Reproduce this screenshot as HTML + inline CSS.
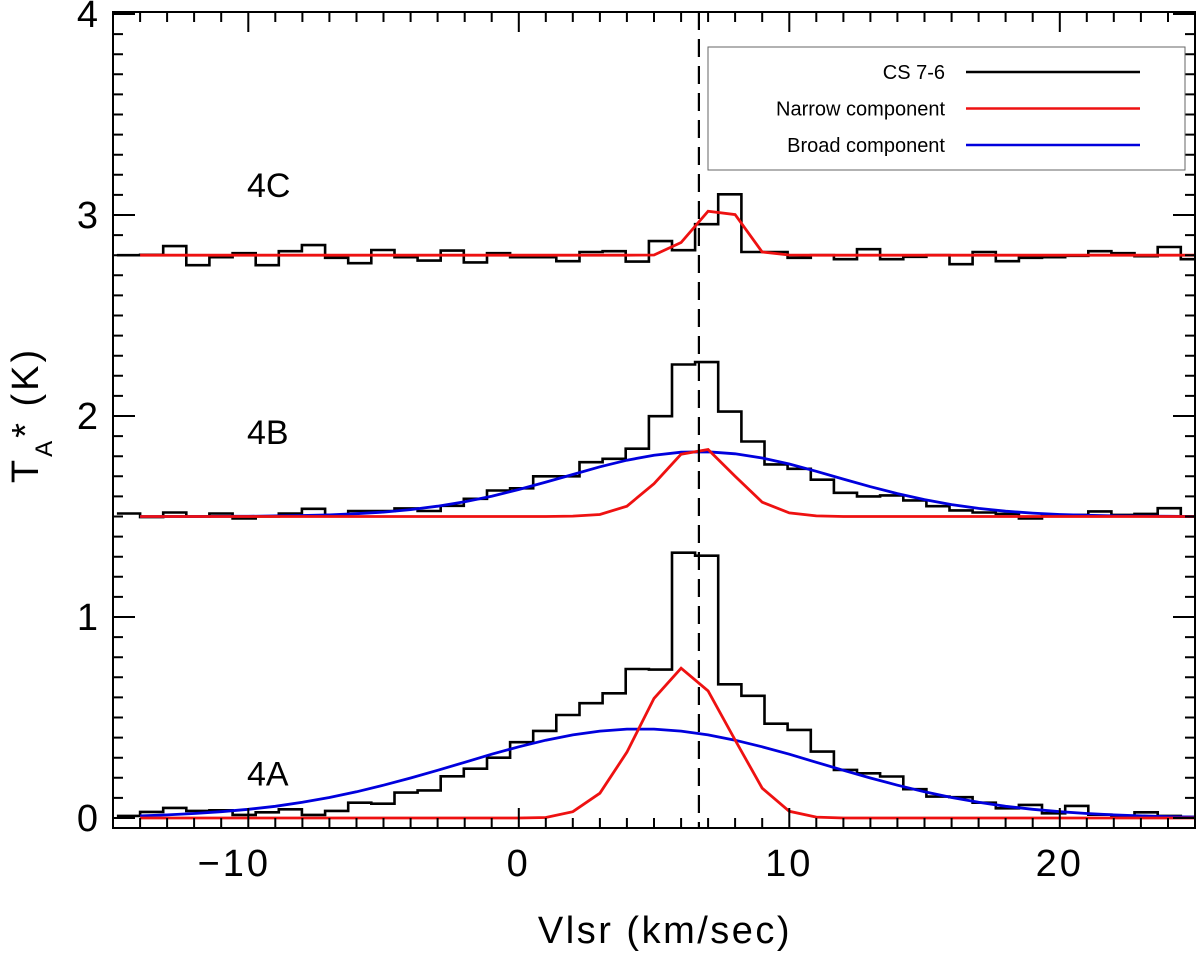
<!DOCTYPE html>
<html><head><meta charset="utf-8"><style>
html,body{margin:0;padding:0;background:#fff;}
svg{display:block;font-family:"Liberation Sans",Arial,sans-serif;}
</style></head><body>
<svg id="chart" width="1200" height="954" viewBox="0 0 1200 954" xmlns="http://www.w3.org/2000/svg">
<g id="plot"></g>
</svg>
<script>
// ---- data ----
const chanStart = -14.0;
const chanWidth = 0.855;
const chanFirstIndex = -1;
const cs4A = [0.01,0.03,0.05,0.035,0.038,0.015,0.028,0.043,0.015,0.035,0.076,0.071,0.126,0.137,0.207,0.245,0.3,0.377,0.433,0.512,0.571,0.62,0.741,0.738,1.32,1.305,0.665,0.608,0.469,0.438,0.33,0.239,0.222,0.206,0.143,0.106,0.103,0.076,0.048,0.065,0.023,0.06,0.016,0.01,0.028,0.01,0.005];
const cs4B = [1.515,1.497,1.52,1.50,1.515,1.49,1.50,1.515,1.538,1.508,1.527,1.527,1.54,1.527,1.553,1.588,1.629,1.64,1.70,1.70,1.77,1.787,1.837,1.999,2.256,2.268,2.022,1.873,1.759,1.737,1.683,1.618,1.60,1.605,1.58,1.551,1.53,1.52,1.513,1.49,1.508,1.508,1.525,1.508,1.513,1.541,1.50];
const cs4C = [2.80,2.802,2.845,2.75,2.79,2.81,2.75,2.82,2.85,2.787,2.76,2.826,2.79,2.773,2.823,2.764,2.81,2.79,2.79,2.77,2.816,2.82,2.768,2.87,2.825,2.954,3.103,2.816,2.816,2.787,2.8,2.78,2.83,2.78,2.792,2.8,2.755,2.816,2.77,2.787,2.79,2.797,2.82,2.81,2.795,2.841,2.78];
const fitVel = [-14,-13,-12,-11,-10,-9,-8,-7,-6,-5,-4,-3,-2,-1,0,1,2,3,4,5,6,7,8,9,10,11,12,13,14,15,16,17,18,19,20,21,22,23,24,25];
const narrow4A = [0,0,0,0,0,0,0,0,0,0,0,0,0,0,0,0.002,0.031,0.123,0.327,0.595,0.745,0.632,0.388,0.148,0.033,0.004,0,0,0,0,0,0,0,0,0,0,0,0,0,0];
const narrow4B = [1.5,1.5,1.5,1.5,1.5,1.5,1.5,1.5,1.5,1.5,1.5,1.5,1.5,1.5,1.5,1.5,1.502,1.51,1.551,1.663,1.81,1.833,1.70,1.571,1.518,1.503,1.5,1.5,1.5,1.5,1.5,1.5,1.5,1.5,1.5,1.5,1.5,1.5,1.5,1.5];
const narrow4C = [2.8,2.8,2.8,2.8,2.8,2.8,2.8,2.8,2.8,2.8,2.8,2.8,2.8,2.8,2.8,2.8,2.8,2.8,2.8,2.801,2.863,3.019,3.002,2.816,2.801,2.8,2.8,2.8,2.8,2.8,2.8,2.8,2.8,2.8,2.8,2.8,2.8,2.8,2.8,2.8];
const broad4A = [0.010,0.015,0.022,0.031,0.043,0.058,0.078,0.102,0.130,0.163,0.199,0.237,0.277,0.317,0.354,0.387,0.413,0.432,0.442,0.442,0.432,0.413,0.387,0.354,0.317,0.277,0.237,0.199,0.163,0.130,0.102,0.078,0.058,0.043,0.031,0.022,0.015,0.010,0.0065,0.004];
const broad4B = [1.5,1.5,1.5,1.501,1.501,1.503,1.505,1.508,1.514,1.522,1.534,1.551,1.573,1.601,1.634,1.671,1.709,1.747,1.780,1.805,1.820,1.822,1.812,1.791,1.761,1.725,1.686,1.648,1.614,1.584,1.559,1.540,1.526,1.517,1.510,1.506,1.503,1.502,1.501,1.5];
const refVel = 6.66;
const xTickVals = [-10,0,10,20];
const xTickLabels = ["\u221210","0","10","20"];
const yTickVals = [0,1,2,3,4];
const yTickLabels = ["0","1","2","3","4"];
const panelLabels = ["4A","4B","4C"];
const panelLabelT = [0.22,1.92,3.15];
const legendLabels = ["CS 7-6","Narrow component","Broad component"];

// ---- axes ----
const L=113,R=1195,T=12,B=828;
const xMin=-15,xMax=25,yMin=-0.05,yMax=4.01;
const X=v=>L+(v-xMin)/(xMax-xMin)*(R-L);
const Y=t=>B-(t-yMin)/(yMax-yMin)*(B-T);
const NS="http://www.w3.org/2000/svg";
const g=document.getElementById('plot');
function mk(tag,attrs,parent){const e=document.createElementNS(NS,tag);for(const k in attrs)e.setAttribute(k,attrs[k]);(parent||g).appendChild(e);return e;}

const defs=mk('defs',{});
const cp=mk('clipPath',{id:'clip'},defs);
mk('rect',{x:L,y:T,width:R-L,height:B-T},cp);
const data=mk('g',{'clip-path':'url(#clip)'});



function histPath(vals){
  let d='';
  vals.forEach((v,i)=>{
    const k=chanFirstIndex+i;
    const x0=X(chanStart+k*chanWidth), x1=X(chanStart+(k+1)*chanWidth), y=Y(v);
    d+=(i===0?'M':'L')+x0.toFixed(1)+','+y.toFixed(1)+'L'+x1.toFixed(1)+','+y.toFixed(1);
  });
  return d;
}
function linePath(xs,ys){return xs.map((v,i)=>(i?'L':'M')+X(v).toFixed(1)+','+Y(ys[i]).toFixed(1)).join('');}

const fits=[[broad4A,'#0000dd','broad-fit-4a'],[broad4B,'#0000dd','broad-fit-4b']];
const hists=[[cs4A,'cs76-spectrum-4a'],[cs4B,'cs76-spectrum-4b'],[cs4C,'cs76-spectrum-4c']];
hists.forEach(h=>{
  const p=mk('path',{d:histPath(h[0]),fill:'none',stroke:'#000','stroke-width':2.6},data);
  
  
});
fits.forEach(f=>{
  const p=mk('path',{d:linePath(fitVel,f[0]),fill:'none',stroke:f[1],'stroke-width':2.8},data);
  
  
});
[[narrow4A,'narrow-fit-4a'],[narrow4B,'narrow-fit-4b'],[narrow4C,'narrow-fit-4c']].forEach(f=>{
  const p=mk('path',{d:linePath(fitVel,f[0]),fill:'none',stroke:'#ee1111','stroke-width':2.8},data);
  
  
});
const dl=mk('line',{x1:X(refVel),x2:X(refVel),y1:T,y2:B,stroke:'#000','stroke-width':2.2,'stroke-dasharray':'18,9'});



const fr=mk('rect',{x:L,y:T,width:R-L,height:B-T,fill:'none',stroke:'#000','stroke-width':2});


let td='';
for(let v=xMin;v<=xMax;v++){
  const len=(v%10===0)?20:10, x=X(v).toFixed(1);
  td+=`M${x},${B}v-${len}M${x},${T}v${len}`;
}
for(let i=0;i<=40;i++){
  const t=i/10, len=(i%10===0)?22:10, y=Y(t).toFixed(1);
  td+=`M${L},${y}h${len}M${R},${y}h-${len}`;
}
const tk=mk('path',{d:td,stroke:'#000','stroke-width':2,fill:'none'});



xTickVals.forEach((v,i)=>{
  const t=mk('text',{x:X(v)+(v<0?-14:0),y:876,'font-size':38,'text-anchor':'middle','letter-spacing':'3',fill:'#000'});
  t.textContent=xTickLabels[i];
  
  
});
yTickVals.forEach((v,i)=>{
  const t=mk('text',{x:98,y:Y(v)+13,'font-size':38,'text-anchor':'end',fill:'#000'});
  t.textContent=yTickLabels[i];
  
  
});
panelLabels.forEach((s,i)=>{
  const t=mk('text',{x:247,y:Y(panelLabelT[i])+12,'font-size':34,fill:'#000'});
  t.textContent=s;
  
  
});

const xt=mk('text',{x:665,y:943,'font-size':38,'text-anchor':'middle','letter-spacing':'2.5',fill:'#000'});
xt.textContent='Vlsr (km/sec)';


const yt=mk('text',{transform:'translate(38,415) rotate(-90)','font-size':38,'text-anchor':'middle','letter-spacing':'3',fill:'#000'});


yt.innerHTML='T<tspan font-size="24" dy="14">A</tspan><tspan dy="-14">*</tspan> (K)';

const lg=mk('g',{});


mk('rect',{x:708,y:47,width:477,height:123,fill:'#fff',stroke:'#666','stroke-width':1},lg);
const lcol=['#000','#ee1111','#0000dd'];
legendLabels.forEach((s,i)=>{
  const y=72+i*36.5;
  const t=mk('text',{x:945,y:y+7,'font-size':20,'text-anchor':'end',fill:'#000'},lg);
  t.textContent=s;
  
  
  const ln=mk('line',{x1:966,x2:1140,y1:y,y2:y,stroke:lcol[i],'stroke-width':2.5},lg);
  
  
});
</script>
</body></html>
